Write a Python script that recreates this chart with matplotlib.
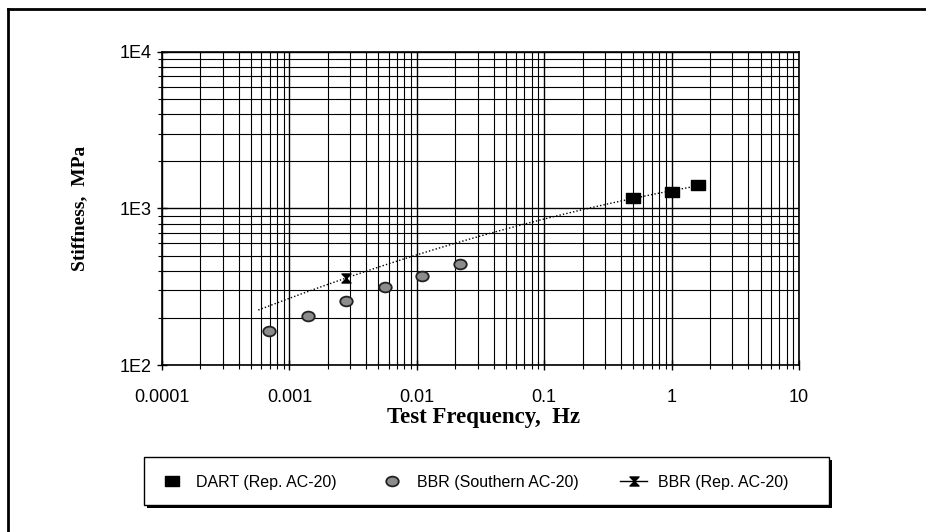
import numpy as np
import matplotlib.pyplot as plt
from matplotlib.path import Path
from matplotlib.lines import Line2D
from matplotlib.patches import Rectangle

# data
dart_freq = [0.5, 1.0, 1.6]
dart_stiff = [1170, 1275, 1410]

south_freq = [0.00069, 0.0014, 0.0028, 0.0056, 0.011, 0.022]
south_stiff = [165, 206, 256, 315, 371, 441]

rep_freq = [0.0028]
rep_stiff = [360]

x_ticks = [0.0001, 0.001, 0.01, 0.1, 1, 10]
x_labels = ['0.0001', '0.001', '0.01', '0.1', '1', '10']
y_ticks = [100, 1000, 10000]
y_labels = ['1E2', '1E3', '1E4']

# custom marker shapes
rect = Path([(-1, -0.7), (1, -0.7), (1, 0.7), (-1, 0.7), (-1, -0.7)],
            [Path.MOVETO, Path.LINETO, Path.LINETO, Path.LINETO, Path.CLOSEPOLY])
circ = Path.unit_circle()
ellipse = Path(circ.vertices * [1, 0.78], circ.codes)
hourglass = Path([(-1, 1), (1, 1), (-1, -1), (1, -1), (-1, 1)],
                 [Path.MOVETO, Path.LINETO, Path.LINETO, Path.LINETO, Path.CLOSEPOLY])

sans = 'Liberation Sans'
serif = 'Liberation Serif'
W, H = 926, 532

fig = plt.figure(figsize=(9.26, 5.32), dpi=100)
ax = fig.add_axes([162 / W, 1 - 365 / H, 637 / W, 313 / H])

ax.set_xscale('log')
ax.set_yscale('log')
ax.set_xlim(1e-4, 10)
ax.set_ylim(100, 10000)

ax.grid(True, which='major', color='black', lw=1.0)
ax.grid(True, which='minor', color='black', lw=0.8)
ax.set_axisbelow(True)

# trendline: quadratic fit in log-log through the Rep. AC-20 points
tx = np.log10(rep_freq + dart_freq)
ty = np.log10(rep_stiff + dart_stiff)
coef = np.polyfit(tx, ty, 2)
xs = np.logspace(np.log10(0.00057), np.log10(max(dart_freq)), 200)
ax.plot(xs, 10 ** np.polyval(coef, np.log10(xs)), color='black', lw=1.0,
        ls=(0, (1, 1.5)), zorder=3)

ax.plot(dart_freq, dart_stiff, ls='none', marker=rect, ms=9.5, mfc='black',
        mec='black', zorder=4, label='DART (Rep. AC-20)')
ax.plot(south_freq, south_stiff, ls='none', marker=ellipse, ms=9, mfc='#8c8c8c',
        mec='#222222', mew=1.3, zorder=4, label='BBR (Southern AC-20)')
ax.plot(rep_freq, rep_stiff, ls='-', color='black', lw=1.0, marker=hourglass, ms=6.5,
        mfc='black', mec='black', zorder=5, label='BBR (Rep. AC-20)')

ax.set_xticks(x_ticks)
ax.set_xticklabels(x_labels)
ax.set_yticks(y_ticks)
ax.set_yticklabels(y_labels)
ax.tick_params(which='both', direction='inout', color='black')
ax.tick_params(which='major', length=7, width=1.0)
ax.tick_params(which='minor', length=6, width=0.8)
ax.tick_params(axis='x', which='major', pad=14, labelsize=13)
ax.tick_params(axis='y', which='major', pad=4, labelsize=13)
for lab in ax.get_xticklabels() + ax.get_yticklabels():
    lab.set_fontfamily(sans)

for sp in ax.spines.values():
    sp.set_color('black')
    sp.set_linewidth(1.2)

ax.set_xlabel('Test Frequency,  Hz', fontfamily=serif, fontweight='bold', fontsize=16.5)
ax.xaxis.set_label_coords(0.505, -0.169)
ax.xaxis.label.set_va('center')
ax.set_ylabel('Stiffness,  MPa', fontfamily=serif, fontweight='bold', fontsize=14)
ax.yaxis.set_label_coords(-0.129, 0.5)
ax.yaxis.label.set_va('center')

# legend box with a hard black shadow, drawn by hand
fig.add_artist(Rectangle((147 / W, 1 - 508 / H), 685 / W, 48 / H, transform=fig.transFigure,
                         facecolor='black', edgecolor='none', zorder=5))
fig.add_artist(Rectangle((144 / W, 1 - 505 / H), 685 / W, 48 / H, transform=fig.transFigure,
                         facecolor='white', edgecolor='black', lw=1.0, zorder=6))
leg = fig.legend(loc='center left', ncol=3, bbox_to_anchor=(158 / W, 1 - 482 / H),
                 frameon=False, borderpad=0, borderaxespad=0, handlelength=1.7,
                 handletextpad=0.7, columnspacing=2.6,
                 prop={'family': sans, 'size': 11.5})
leg.set_zorder(7)

# outer chart border (only left and top edges are inside the picture)
fig.add_artist(Line2D([8 / W, 8 / W], [0, 1 - 9 / H], color='black', lw=2.0))
fig.add_artist(Line2D([8 / W, 1], [1 - 9 / H, 1 - 9 / H], color='black', lw=2.0))

fig.savefig('out.png', dpi=100)
